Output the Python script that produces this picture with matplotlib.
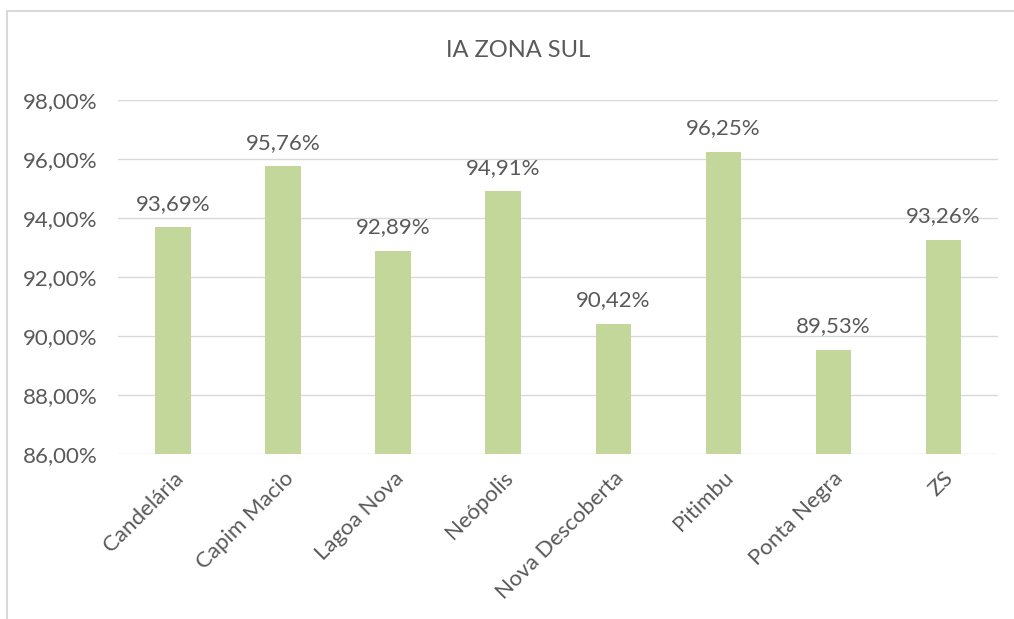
import matplotlib.pyplot as plt
from matplotlib.patches import Rectangle
from matplotlib.ticker import FuncFormatter

categories = ['Candelária', 'Capim Macio', 'Lagoa Nova', 'Neópolis',
              'Nova Descoberta', 'Pitimbu', 'Ponta Negra', 'ZS']
values = [93.69, 95.76, 92.89, 94.91, 90.42, 96.25, 89.53, 93.26]
yticks = [86, 88, 90, 92, 94, 96, 98]

text_color = '#595959'
bar_color = '#C4D79B'
grid_color = '#D9D9D9'

plt.rcParams['font.family'] = ['Lato', 'DejaVu Sans']

fig = plt.figure(figsize=(10.14, 6.19), dpi=100)
ax = fig.add_axes([0.1164, 0.2666, 0.868, 0.5719])

x = range(len(categories))
ax.bar(x, [v - yticks[0] for v in values], bottom=yticks[0], width=0.32,
       color=bar_color, zorder=3)

# data labels
for i, v in enumerate(values):
    ax.text(i, v + 0.45, f'{v:.2f}%'.replace('.', ','), ha='center', va='bottom',
            fontsize=16, color=text_color)

ax.set_xlim(-0.5, len(categories) - 0.5)
ax.set_ylim(yticks[0], yticks[-1])
ax.set_yticks(yticks)
ax.yaxis.set_major_formatter(FuncFormatter(lambda v, p: f'{v:.2f}%'.replace('.', ',')))
ax.set_xticks(list(x))
ax.set_xticklabels(categories, rotation=45, ha='right', rotation_mode='anchor')
ax.tick_params(axis='both', length=0, labelsize=16, labelcolor=text_color)
ax.tick_params(axis='y', pad=15)
ax.tick_params(axis='x', pad=10)
ax.grid(axis='y', color=grid_color, linewidth=1, zorder=0)
for s in ax.spines.values():
    s.set_visible(False)

fig.text(0.511, 0.919, 'IA ZONA SUL', ha='center', va='center', fontsize=17,
         color=text_color)

# chart border
fig.patches.append(Rectangle((7 / 1014, -0.05), 1.1, 1 - 11 / 619 + 0.05,
                             transform=fig.transFigure, fill=False,
                             edgecolor='#D9D9D9', linewidth=1.5))

fig.savefig('out.png', dpi=100)
